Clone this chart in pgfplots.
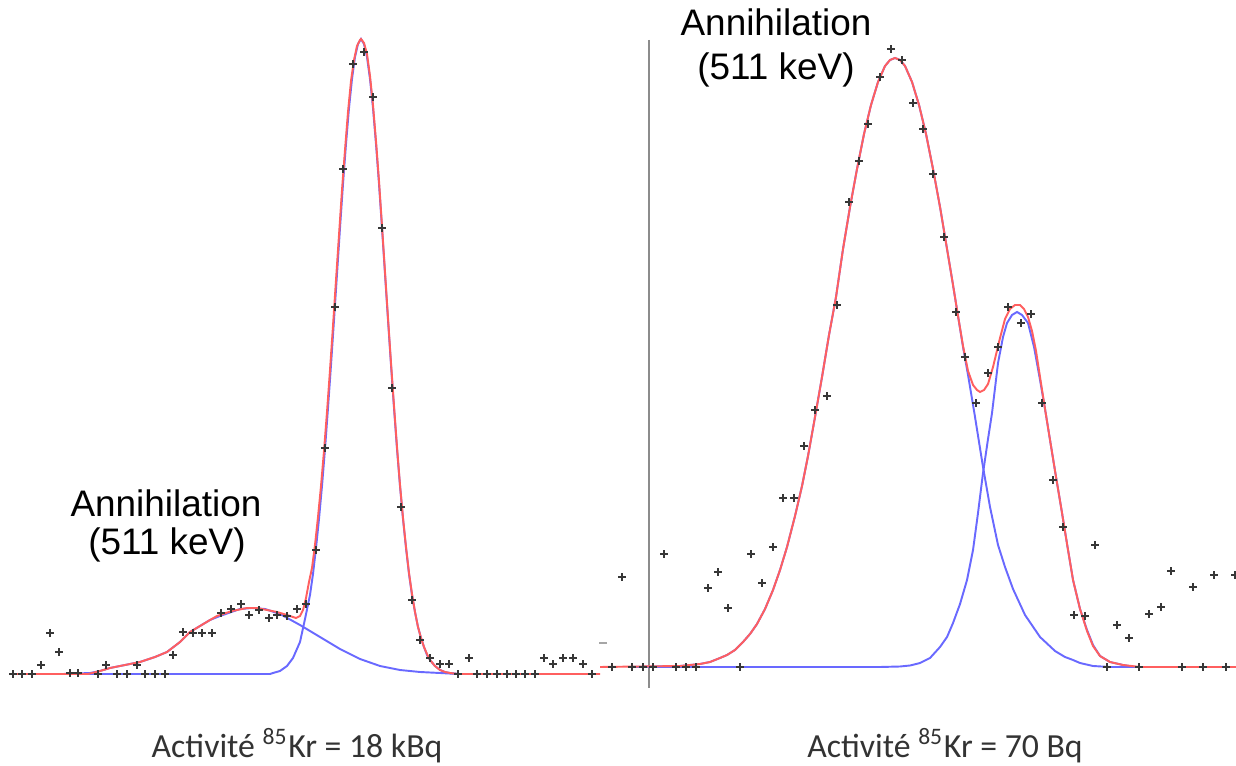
\documentclass[border=0pt]{standalone}
\usepackage{fontspec}
\setmainfont{Liberation Sans}
\newfontfamily\calibri{Carlito}
\usepackage{pgfplots}
\pgfplotsset{compat=1.18}
\definecolor{fitred}{RGB}{255,95,95}
\definecolor{fitblue}{RGB}{105,105,255}
\definecolor{ptc}{RGB}{55,55,55}
\definecolor{vline}{RGB}{140,140,140}
\begin{document}
\begin{tikzpicture}
\useasboundingbox (0,0) rectangle (12.36,7.65);
\pgfplotsset{panel/.style={at={(0,0)}, anchor=south west, scale only axis,
  width=12.36cm, height=7.65cm, xmin=0, xmax=1236, axis lines=none, clip=false},
  redfit/.style={fitred, line width=0.55pt, no marks},
  bluefit/.style={fitblue, line width=0.55pt, no marks},
  pts/.style={only marks, mark=+, mark size=1.05pt, ptc, mark options={line width=0.45pt}}}
% ---------------- left panel ----------------
\begin{axis}[panel, ymin=-91, ymax=674]
% blue: annihilation component
\addplot[bluefit] coordinates {(63,0)(90,1)(100,3)(110,6)(125,9)(140,12)(155,17)(167,22)(180,32)(190,42)(200,48)(210,54)(220,58)(240,65)(252,66)(265,65)(280,60)(300,49)(320,37)(340,25)(360,15)(380,8)(400,4)(420,2)(440,1)(458,0)};
% blue: 85Kr component
\addplot[bluefit] coordinates {(63,0)(270,0)(273,1)(280,3)(287,8)(293,16)(300,32)(305,55)(310,79)(313,100)(316,126)(319,155)(322,188)(325,225)(328,266)(331,309)(334,354)(337,400)(340,446)(343,490)(346,530)(349,566)(352,595)(355,617)(358,630)(361,635)(364,630)(367,617)(370,595)(373,566)(376,530)(379,490)(382,446)(385,400)(388,354)(391,309)(394,266)(397,225)(400,188)(403,155)(406,126)(409,100)(412,79)(415,62)(418,47)(421,36)(424,27)(427,19)(430,14)(435,8)(440,4)(445,2)(450,1)(458,0)};
% red: total fit
\addplot[redfit] coordinates {(12,0)(88,0)(100,3)(110,6)(125,9)(140,12)(155,17)(167,22)(180,32)(190,42)(200,48)(210,54)(217,58)(232,63)(247,66)(257,66)(267,64)(277,62)(287,59)(296,56)(300,58)(303,64)(306,76)(309,92)(312,106)(315,129)(318,157)(321,188)(324,223)(327,262)(330,304)(333,348)(336,394)(339,439)(342,484)(345,524)(348,562)(351,593)(354,614)(357,628)(360,634)(361,635)(364,631)(367,620)(370,598)(373,569)(376,533)(379,493)(382,448)(385,402)(388,356)(391,311)(394,268)(397,227)(400,189)(403,156)(406,127)(409,101)(412,80)(415,62)(418,47)(421,36)(424,27)(427,20)(430,14)(435,8)(440,4)(445,2)(450,1)(458,0)(600,0)};
% measured points
\addplot[pts] coordinates {(13,0)(22,0)(32,0)(41,9)(50,41)(59,22)(70,1)(78,1)(98,0)(106,9)(117,0)(127,0)(137,9)(145,0)(155,0)(165,0)(173,19)(183,42)(193,41)(202,41)(212,41)(221,61)(231,65)(241,70)(249,59)(259,64)(269,56)(277,59)(287,58)(297,65)(306,70)(316,124)(325,226)(335,367)(343,505)(353,610)(364,622)(373,577)(382,446)(392,286)(401,167)(412,74)(420,34)(430,16)(440,10)(449,10)(458,0)(469,16)(477,0)(487,0)(497,0)(507,0)(516,0)(525,0)(535,0)(544,16)(553,10)(563,16)(573,16)(583,10)(592,0)};
\node[anchor=base, font=\fontsize{10.5}{12}\selectfont] at (axis cs:166,157) {Annihilation};
\node[anchor=base, font=\fontsize{10.5}{12}\selectfont] at (axis cs:167,119) {(511 keV)};
\node[anchor=base, text=black!80, font=\calibri\fontsize{9.6}{12}\selectfont] at (axis cs:297,-83) {Activité \textsuperscript{85}Kr = 18 kBq};
\end{axis}
% ---------------- right panel ----------------
\begin{axis}[panel, ymin=-98, ymax=667]
\addplot[vline, line width=0.6pt, no marks] coordinates {(649,627)(649,-21)};
% blue: annihilation component
\addplot[bluefit] coordinates {(630,0)(680,1)(690,2)(700,3)(710,5)(720,9)(727,12)(735,17)(743,25)(750,33)(757,43)(765,58)(773,77)(780,97)(787,120)(795,151)(802,181)(808,211)(815,250)(822,290)(829,332)(836,370)(843,418)(850,460)(857,498)(864,533)(871,562)(878,585)(885,601)(890,607)(895,609)(900,607)(905,601)(912,585)(919,562)(926,533)(933,498)(940,460)(947,418)(953,382)(958,351)(963,320)(968,292)(975,250)(983,200)(990,160)(998,122)(1005,100)(1013,78)(1025,52)(1040,30)(1055,16)(1065,10)(1073,7)(1080,4)(1093,1)(1110,0)(1162,0)};
% blue: 85Kr component
\addplot[bluefit] coordinates {(630,0)(880,0)(900,0.5)(910,1.5)(920,4)(930,9)(940,20)(947,30)(953,44)(960,63)(967,87)(973,117)(978,154)(983,194)(988,228)(992,254)(998,304)(1003,330)(1007,344)(1012,352)(1017,355)(1022,352)(1028,344)(1034,320)(1040,287)(1045,258)(1050,227)(1056,190)(1062,154)(1068,117)(1073,87)(1080,58)(1087,37)(1093,22)(1100,11)(1110,5)(1123,2)(1135,0)(1162,0)};
% red: total fit
\addplot[redfit] coordinates {(600,0)(680,1)(690,2)(700,3)(710,5)(720,9)(727,12)(735,17)(743,25)(750,33)(757,43)(765,58)(773,77)(780,97)(787,120)(795,151)(802,181)(808,211)(815,250)(822,290)(829,332)(836,370)(843,418)(850,460)(857,498)(864,533)(871,562)(878,585)(885,601)(890,607)(895,609)(900,607)(905,601)(912,585)(919,562)(926,533)(933,498)(940,460)(947,418)(953,382)(958,351)(963,321)(968,296)(973,282)(977,277)(980,275)(984,277)(988,283)(993,300)(1000,329)(1005,348)(1010,358)(1015,362)(1020,362)(1024,358)(1028,350)(1032,336)(1036,316)(1040,290)(1045,258)(1050,227)(1056,190)(1062,154)(1068,117)(1073,87)(1080,58)(1087,36)(1093,21)(1100,11)(1110,5)(1123,2)(1140,0)(1236,0)};
% measured points
\addplot[only marks, mark=-, mark size=1.2pt, black!35] coordinates {(603,24)};
\addplot[pts] coordinates {(612,0)(622,90)(632,0)(643,0)(653,0)(664,113)(676,0)(686,0)(696,0)(708,79)(718,95)(728,59)(740,0)(751,113)(762,84)(773,120)(783,169)(794,169)(804,221)(815,257)(827,271)(837,362)(849,465)(859,506)(868,543)(880,590)(891,618)(902,607)(913,564)(923,538)(933,493)(944,430)(956,355)(965,310)(976,264)(988,294)(998,320)(1008,360)(1021,344)(1031,353)(1042,264)(1053,187)(1063,140)(1074,52)(1085,51)(1095,122)(1107,0)(1117,42)(1129,29)(1139,0)(1149,53)(1161,60)(1171,96)(1182,0)(1193,80)(1203,0)(1214,92)(1226,0)(1235,92)};
\node[anchor=base, font=\fontsize{10.5}{12}\selectfont] at (axis cs:776,631) {Annihilation};
\node[anchor=base, font=\fontsize{10.5}{12}\selectfont] at (axis cs:776,587) {(511 keV)};
\node[anchor=base, text=black!80, font=\calibri\fontsize{9.6}{12}\selectfont] at (axis cs:945,-90) {Activité \textsuperscript{85}Kr = 70 Bq};
\end{axis}
\end{tikzpicture}
\end{document}
